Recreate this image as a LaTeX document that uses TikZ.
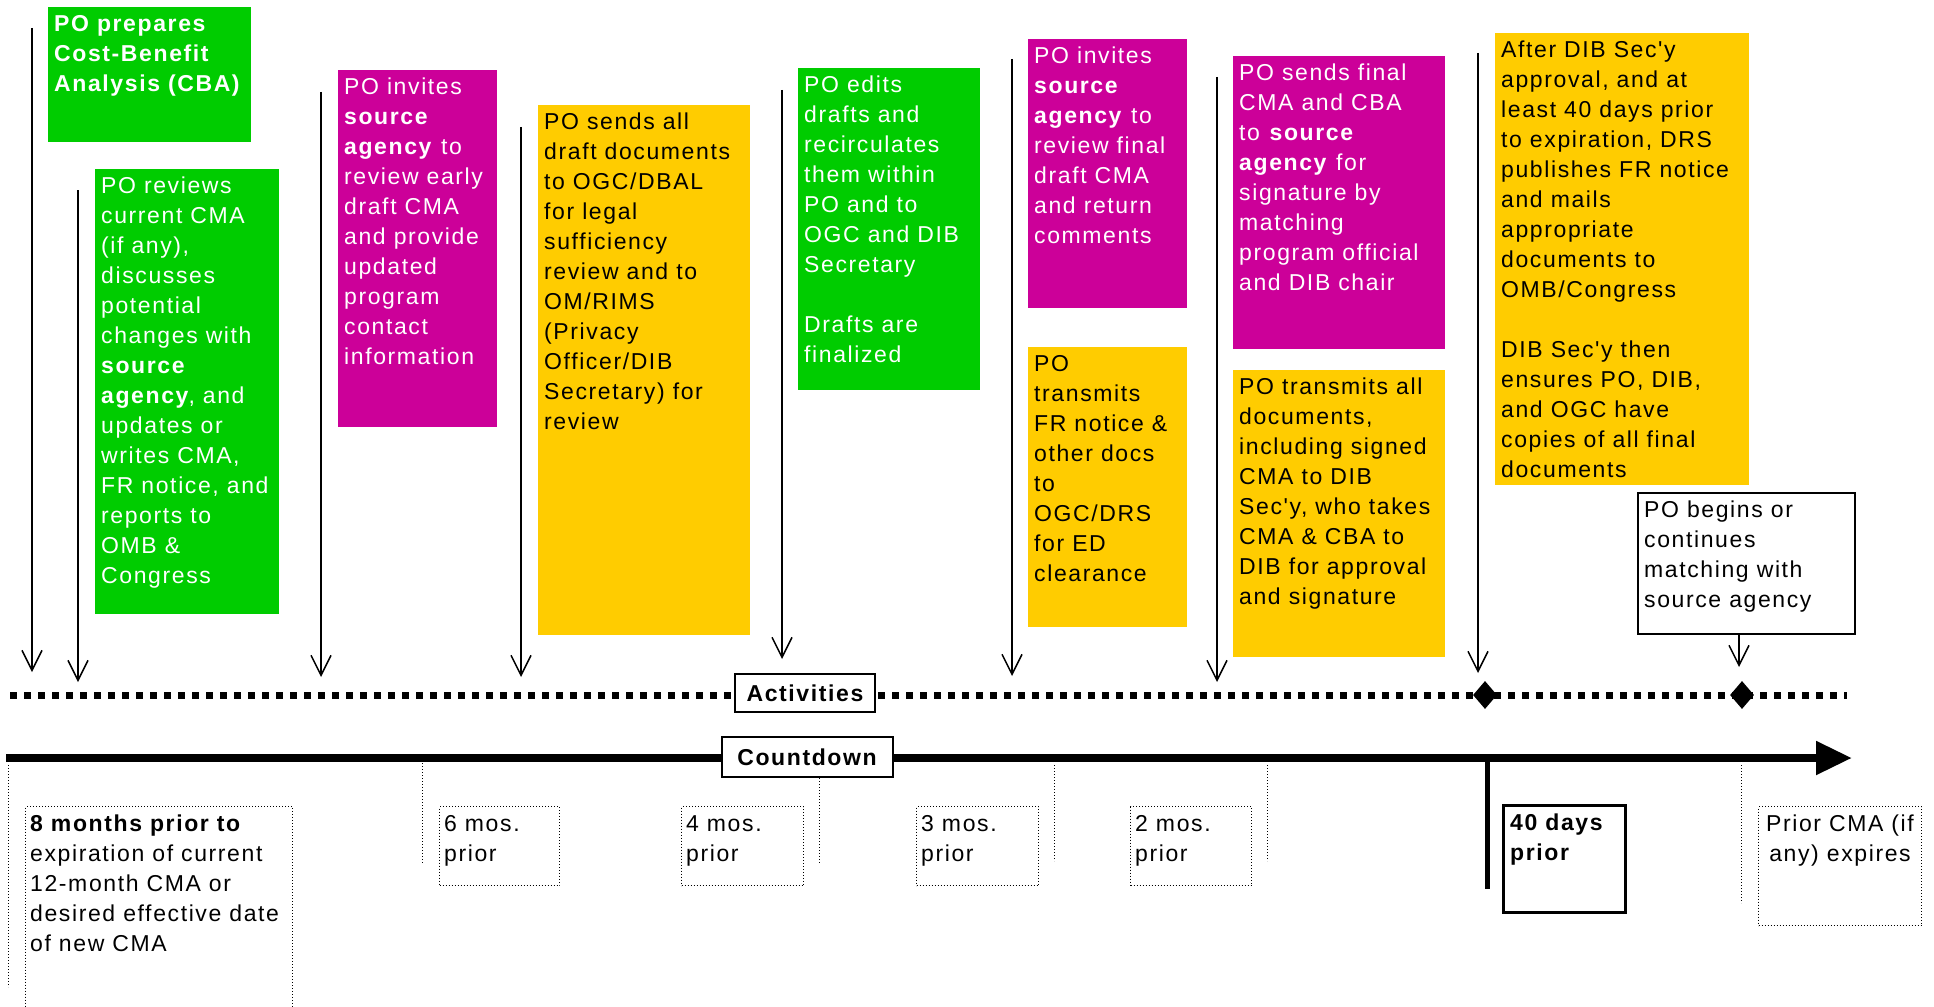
\documentclass[tikz,border=0pt]{standalone}
\usepackage{fontspec}
\setmainfont{Liberation Sans}[LetterSpace=7, Ligatures=TeXOff]
\usetikzlibrary{arrows.meta,shapes.geometric}
\definecolor{cgreen}{RGB}{0,204,0}
\definecolor{cmag}{RGB}{204,0,153}
\definecolor{cyel}{RGB}{255,204,0}
\newcommand{\fl}{\rule{0pt}{24pt}}
\newcommand{\flb}{\rule{0pt}{25pt}}
\tikzset{
  box/.style={anchor=north west, inner sep=0pt, outer sep=0pt, draw=none},
  txt/.style={anchor=north west, inner sep=0pt, align=left, font=\fontsize{23}{30}\selectfont},
  wtxt/.style={txt, text=white},
  act/.style={-{Straight Barb[length=20pt,width=20pt]}, line width=1.5pt},
  tick/.style={dotted, line width=1pt},
  lab/.style={draw, dotted, line width=1pt, anchor=north west, inner sep=0pt},
  tlab/.style={draw, line width=2pt, fill=white, inner sep=0pt, font=\fontsize{23}{26}\selectfont\bfseries}
}
\begin{document}
\begin{tikzpicture}[x=1pt,y=-1pt]
\useasboundingbox (0,0) rectangle (1934,1006);

% ---------- coloured activity boxes ----------
\node[box, fill=cgreen, minimum width=203pt, minimum height=135pt] (bA) at (48,7) {};
\node[wtxt] (tA) at ([xshift=6pt]bA.north west) {\fl\textbf{PO prepares}\\\textbf{Cost-Benefit}\\\textbf{Analysis (CBA)}};

\node[box, fill=cgreen, minimum width=184pt, minimum height=445pt] (bB) at (95,169) {};
\node[wtxt] (tB) at ([xshift=6pt]bB.north west) {\fl PO reviews\\current CMA\\(if any),\\discusses\\potential\\changes with\\\textbf{source}\\\textbf{agency}, and\\updates or\\writes CMA,\\FR notice, and\\reports to\\OMB \&\\Congress};

\node[box, fill=cmag, minimum width=159pt, minimum height=357pt] (bC) at (338,70) {};
\node[wtxt] (tC) at ([xshift=6pt]bC.north west) {\fl PO invites\\\textbf{source}\\\textbf{agency} to\\review early\\draft CMA\\and provide\\updated\\program\\contact\\information};

\node[box, fill=cyel, minimum width=212pt, minimum height=530pt] (bD) at (538,105) {};
\node[txt] (tD) at ([xshift=6pt]bD.north west) {\fl PO sends all\\draft documents\\to OGC/DBAL\\for legal\\sufficiency\\review and to\\OM/RIMS\\(Privacy\\Officer/DIB\\Secretary) for\\review};

\node[box, fill=cgreen, minimum width=182pt, minimum height=322pt] (bE) at (798,68) {};
\node[wtxt] (tE) at ([xshift=6pt]bE.north west) {\fl PO edits\\drafts and\\recirculates\\them within\\PO and to\\OGC and DIB\\Secretary\\[30pt]Drafts are\\finalized};

\node[box, fill=cmag, minimum width=159pt, minimum height=269pt] (bF) at (1028,39) {};
\node[wtxt] (tF) at ([xshift=6pt]bF.north west) {\fl PO invites\\\textbf{source}\\\textbf{agency} to\\review final\\draft CMA\\and return\\comments};

\node[box, fill=cyel, minimum width=159pt, minimum height=280pt] (bG) at (1028,347) {};
\node[txt] (tG) at ([xshift=6pt]bG.north west) {\fl PO\\transmits\\FR notice \&\\other docs\\to\\OGC/DRS\\for ED\\clearance};

\node[box, fill=cmag, minimum width=212pt, minimum height=293pt] (bH) at (1233,56) {};
\node[wtxt] (tH) at ([xshift=6pt]bH.north west) {\fl PO sends final\\CMA and CBA\\to \textbf{source}\\\textbf{agency} for\\signature by\\matching\\program official\\and DIB chair};

\node[box, fill=cyel, minimum width=212pt, minimum height=287pt] (bI) at (1233,370) {};
\node[txt] (tI) at ([xshift=6pt]bI.north west) {\fl PO transmits all\\documents,\\including signed\\CMA to DIB\\Sec'y, who takes\\CMA \& CBA to\\DIB for approval\\and signature};

\node[box, fill=cyel, minimum width=254pt, minimum height=452pt] (bJ) at (1495,33) {};
\node[txt] (tJ) at ([xshift=6pt]bJ.north west) {\fl After DIB Sec'y\\approval, and at\\least 40 days prior\\to expiration, DRS\\publishes FR notice\\and mails\\appropriate\\documents to\\OMB/Congress\\[30pt]DIB Sec'y then\\ensures PO, DIB,\\and OGC have\\copies of all final\\documents};

\node[box, fill=white, draw=black, line width=2.5pt, minimum width=217pt, minimum height=141pt] (bK) at (1638,493) {};
\node[txt] (tK) at ([xshift=6pt]bK.north west) {\fl PO begins or\\continues\\matching with\\source agency};

% ---------- activities line ----------
\coordinate (dl) at (10,695);
\coordinate (dr) at (1847,695);
\draw[line width=7pt, dash pattern=on 7pt off 7pt] (dl) -- (dr);
\node[tlab, minimum width=140pt, minimum height=38pt] (act) at (805,693) {Activities};
\node[diamond, fill=black, inner sep=0pt, minimum width=24pt, minimum height=28pt] (d1) at (1485,695) {};
\node[diamond, fill=black, inner sep=0pt, minimum width=24pt, minimum height=28pt] (d2) at (1742,695) {};

% ---------- activity arrows ----------
\coordinate (s1) at (32,28);    \coordinate (e1) at (32,672);
\coordinate (s2) at (78,190);   \coordinate (e2) at (78,682);
\coordinate (s3) at (321,92);   \coordinate (e3) at (321,677);
\coordinate (s4) at (521,127);  \coordinate (e4) at (521,677);
\coordinate (s5) at (782,90);   \coordinate (e5) at (782,659);
\coordinate (s6) at (1012,59);  \coordinate (e6) at (1012,676);
\coordinate (s7) at (1217,77);  \coordinate (e7) at (1217,682);
\coordinate (s8) at (1478,53);  \coordinate (e8) at (1478,673);
\coordinate (e9) at (1739,667);
\foreach \i in {1,...,8} {\draw[act] (s\i) -- (e\i);}
\draw[act] (bK.south -| e9) -- (e9);

% ---------- countdown line ----------
\coordinate (cl) at (6,758);
\coordinate (cr) at (1852,758);
\draw[line width=8pt, -{Triangle[length=36pt,width=32pt]}] (cl) -- (cr);
\node[tlab, minimum width=171pt, minimum height=40pt] (cd) at (807,757) {Countdown};

% ---------- countdown ticks ----------
\draw[tick] (8,765) -- (8,987);
\draw[tick] (422,763) -- (422,863);
\draw[tick] (819,778) -- (819,863);
\draw[tick] (1054,765) -- (1054,861);
\draw[tick] (1267,765) -- (1267,861);
\draw[tick] (1741,765) -- (1741,903);
\draw[line width=5pt] (1487,758) -- (1487,889);

% ---------- countdown labels ----------
\node[lab, minimum width=267pt, minimum height=230pt] (l8) at (25,806) {};
\node[txt] (t8) at ([xshift=5pt]l8.north west) {\flb\textbf{8 months prior to}\\expiration of current\\12-month CMA or\\desired effective date\\of new CMA};

\node[lab, minimum width=120pt, minimum height=79pt] (l6) at (439,806) {};
\node[txt] (t6) at ([xshift=5pt]l6.north west) {\flb 6 mos.\\prior};

\node[lab, minimum width=122pt, minimum height=79pt] (l4) at (681,806) {};
\node[txt] (t4) at ([xshift=5pt]l4.north west) {\flb 4 mos.\\prior};

\node[lab, minimum width=122pt, minimum height=79pt] (l3) at (916,806) {};
\node[txt] (t3) at ([xshift=5pt]l3.north west) {\flb 3 mos.\\prior};

\node[lab, minimum width=121pt, minimum height=79pt] (l2) at (1130,806) {};
\node[txt] (t2) at ([xshift=5pt]l2.north west) {\flb 2 mos.\\prior};

\node[box, draw=black, line width=3pt, minimum width=122pt, minimum height=107pt] (l40) at (1503,805) {};
\node[txt] (t40) at ([xshift=7pt]l40.north west) {\flb\textbf{40 days}\\\textbf{prior}};

\node[lab, minimum width=163pt, minimum height=119pt] (lp) at (1758,806) {};
\node[txt, anchor=north, align=center] (tp) at (lp.north) {\flb Prior CMA (if\\any) expires};
\end{tikzpicture}
\end{document}
